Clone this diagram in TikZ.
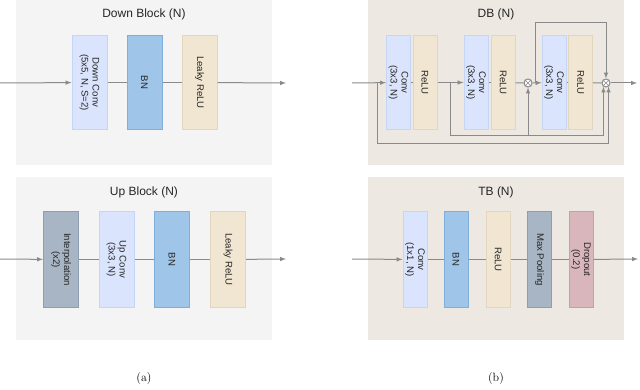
\documentclass[tikz,border=0pt]{standalone}
\usepackage{fontspec}
\setsansfont{Liberation Sans}
\usepackage{xcolor}
\usepackage{tikz}
\usetikzlibrary{calc, positioning}

\definecolor{panelgray}{HTML}{F4F4F4}
\definecolor{panelbeige}{HTML}{EDE9E2}
\definecolor{convblue}{HTML}{DAE4FC}
\definecolor{convedge}{HTML}{C5D5F5}
\definecolor{bnblue}{HTML}{9FC5E8}
\definecolor{bnedge}{HTML}{7FAEDB}
\definecolor{reluC}{HTML}{F1E6D2}
\definecolor{reluedge}{HTML}{E2D6BF}
\definecolor{poolC}{HTML}{A8B5C4}
\definecolor{pooledge}{HTML}{8E9EB2}
\definecolor{dropC}{HTML}{D9B6BB}
\definecolor{dropedge}{HTML}{C89EA4}
\definecolor{lineC}{HTML}{8A8A8A}
\definecolor{txtC}{HTML}{262626}

\begin{document}
\begin{tikzpicture}[x=1pt, y=-1pt, >=latex,
    every path/.style={line width=1pt},
    blk/.style={draw, rotate=-90, inner sep=0pt, align=center, text=txtC,
        font=\sffamily\fontsize{9.6}{11}\selectfont},
    big/.style={minimum width=94pt, minimum height=35pt},
    thin/.style={minimum width=94pt, minimum height=24pt},
    conv/.style={blk, fill=convblue, draw=convedge},
    bn/.style={blk, fill=bnblue, draw=bnedge},
    relu/.style={blk, fill=reluC, draw=reluedge},
    pool/.style={blk, fill=poolC, draw=pooledge},
    drop/.style={blk, fill=dropC, draw=dropedge},
    sum/.style={circle, draw=lineC, fill=white, minimum size=8pt, inner sep=0pt},
    title/.style={font=\sffamily\fontsize{12}{14}\selectfont, text=txtC},
    wire/.style={draw=lineC}]
    \useasboundingbox (0,0) rectangle (640,390);

    % 1. Nền các khối
    \fill[panelgray]  (16,0)   rectangle (272,165);
    \fill[panelgray]  (16,177) rectangle (272,340);
    \fill[panelbeige] (368,0)  rectangle (624,165);
    \fill[panelbeige] (368,177) rectangle (624,340);

    \node[title] (tDown) at (144,14)  {Down Block (N)};
    \node[title] (tUp)   at (144,192) {Up Block (N)};
    \node[title] (tDB)   at (496,14)  {DB (N)};
    \node[title] (tTB)   at (496,192) {TB (N)};

    % 2. Down Block
    \coordinate (inD) at (0,83);
    \coordinate (outD) at (286,83);
    \node[conv, big] (dconv) at (89.5,82.5)  {Down Conv\\(5x5, N, S=2)};
    \node[bn, big]   (dbn)   at (144.5,82.5) {BN};
    \node[relu, big] (drelu) at (199.5,82.5) {Leaky ReLU};
    \draw[wire, ->] (inD) -- (dconv);
    \draw[wire] (dconv) -- (dbn);
    \draw[wire] (dbn) -- (drelu);
    \draw[wire, ->] (drelu) -- (outD);

    % 3. Up Block
    \coordinate (inU) at (0,259);
    \coordinate (outU) at (286,259);
    \node[pool, big, minimum width=95pt] (uint)  at (61,259.5)  {Interpolation\\(x2)};
    \node[conv, big, minimum width=95pt] (uconv) at (116.5,259.5) {Up Conv\\(3x3, N)};
    \node[bn, big, minimum width=95pt]   (ubn)   at (172,259.5) {BN};
    \node[relu, big, minimum width=95pt] (urelu) at (228,259.5) {Leaky ReLU};
    \draw[wire, ->] (inU) -- (uint);
    \draw[wire] (uint) -- (uconv);
    \draw[wire] (uconv) -- (ubn);
    \draw[wire] (ubn) -- (urelu);
    \draw[wire, ->] (urelu) -- (outU);

    % 4. DB (N)
    \node[conv, thin] (conv1) at (398.5,82.5) {Conv\\(3x3, N)};
    \node[relu, thin] (relu1) at (425,82.5)   {ReLU};
    \node[conv, thin] (conv2) at (476,82.5)   {Conv\\(3x3, N)};
    \node[relu, thin] (relu2) at (503,82.5)   {ReLU};
    \node[conv, thin] (conv3) at (554,82.5)   {Conv\\(3x3, N)};
    \node[relu, thin] (relu3) at (580.5,82.5) {ReLU};
    \node[sum] (c1) at (528,83) {};
    \node[sum] (c2) at (606,83) {};
    \draw[lineC, line width=0.6pt] (c1.45) -- (c1.225) (c1.135) -- (c1.315);
    \draw[lineC, line width=0.6pt] (c2.45) -- (c2.225) (c2.135) -- (c2.315);

    \coordinate (inDB) at (352,83);
    \coordinate (outDB) at (637,83);
    \coordinate (b1) at (377,83);
    \coordinate (b2) at (450,83);
    \coordinate (b3) at (535,83);
    \draw[wire, ->] (inDB) -- (conv1);
    \draw[wire] (conv1) -- (relu1);
    \draw[wire, ->] (relu1) -- (conv2);
    \draw[wire] (conv2) -- (relu2);
    \draw[wire] (relu2) -- (c1);
    \draw[wire, ->] (c1) -- (conv3);
    \draw[wire] (conv3) -- (relu3);
    \draw[wire] (relu3) -- (c2);
    \draw[wire, ->] (c2) -- (outDB);
    % các nhánh tắt
    \draw[wire, ->] (b3) -- ++(0,-60) -| (c2.north);
    \draw[wire, ->] (b2) -- ++(0,53) -| (c2.-125);
    \draw[wire, ->] (c1 |- 0,136) -- (c1.south);
    \draw[wire, ->] (b1) -- ++(0,61) -| (c2.-55);

    % 5. TB (N)
    \coordinate (inTB) at (352,259);
    \coordinate (outTB) at (638,259);
    \node[conv, thin, minimum width=95pt] (tconv) at (415,259.5)   {Conv\\(1x1, N)};
    \node[bn, thin, minimum width=95pt]   (tbn)   at (456,259.5)   {BN};
    \node[relu, thin, minimum width=95pt] (trelu) at (498,259.5)   {ReLU};
    \node[pool, thin, minimum width=95pt] (tpool) at (539.5,259.5) {Max Pooling};
    \node[drop, thin, minimum width=95pt] (tdrop) at (581,259.5)   {Dropout\\(0.2)};
    \draw[wire, ->] (inTB) -- (tconv);
    \draw[wire] (tconv) -- (tbn);
    \draw[wire] (tbn) -- (trelu);
    \draw[wire] (trelu) -- (tpool);
    \draw[wire] (tpool) -- (tdrop);
    \draw[wire, ->] (tdrop) -- (outTB);

    % 6. Chú thích
    \node[font=\fontsize{12}{14}\selectfont] (capA) at (144,379) {(a)};
    \node[font=\fontsize{12}{14}\selectfont] (capB) at (496,379) {(b)};
\end{tikzpicture}
\end{document}
